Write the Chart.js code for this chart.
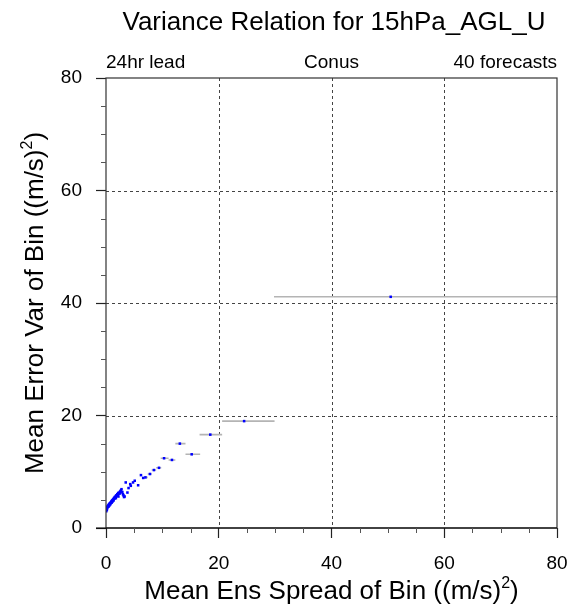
<!DOCTYPE html>
<html>
<head>
<meta charset="utf-8">
<script src="https://cdn.jsdelivr.net/npm/chart.js@4/dist/chart.umd.min.js"></script>
<style>
  html, body { margin: 0; padding: 0; background: #fff; }
</style>
</head>
<body>
<canvas id="chart" width="574" height="612"></canvas>
<script>
// bin means: spread (x) vs error variance (y)
var spreadX = [
  50.5, 24.5, 18.5, 15.2, 13.1, 11.7, 10.3, 9.4, 8.5, 7.8, 7.0, 6.6, 6.2, 5.7, 5.1, 4.8,
  4.4, 4.3, 4.0, 3.5, 3.8, 3.3, 3.2, 3.1, 3.0, 2.9, 2.75, 2.65, 2.55, 2.5, 2.4, 2.3,
  2.2, 2.15, 2.1, 2.0, 1.9, 1.8, 1.75, 1.7, 1.6, 1.55, 1.5, 1.4, 1.35, 1.3, 1.2, 1.15,
  1.1, 1.05, 1.0, 0.95, 0.9, 0.85, 0.8, 0.75, 0.7, 0.65, 0.6, 0.55, 0.5, 0.45, 0.4, 0.35,
  0.3, 0.25, 0.2, 0.15, 0.12, 0.1, 0.05
];
var errVar = [
  41.1, 19.0, 16.6, 13.1, 15.0, 12.1, 12.4, 10.7, 10.3, 9.6, 9.0, 8.9, 9.4, 7.6, 8.4, 8.1,
  7.5, 7.8, 7.1, 8.1, 6.3, 5.6, 5.5, 5.8, 6.0, 6.4, 6.9, 6.7, 6.3, 6.5, 6.1, 6.3,
  5.6, 6.2, 5.9, 6.0, 5.7, 5.8, 5.3, 5.6, 5.4, 5.5, 5.2, 5.3, 4.9, 5.1, 5.0, 4.7,
  4.9, 4.8, 4.5, 4.7, 4.6, 4.4, 4.5, 4.2, 4.4, 4.3, 4.0, 4.2, 4.1, 3.8, 4.0, 3.9,
  3.7, 3.8, 3.5, 3.2, 3.6, 3.3, 3.0
];
// bin ranges drawn as grey bars
var barY  = [41.1, 19.0, 16.6, 15.0, 13.1, 12.4, 12.1, 10.7, 10.3, 9.6, 9.0, 8.9];
var barLo = [29.8, 20.6, 16.6, 12.3, 14.1, 9.7, 11.1, 8.9, 8.1, 7.4, 6.8, 6.4];
var barHi = [80.0, 29.9, 20.6, 14.1, 16.7, 11.1, 12.3, 9.8, 8.9, 8.1, 7.4, 6.8];

var axisMin = 0, axisMax = 80, majorStep = 20, minorStep = 5;
var titleText = "Variance Relation for 15hPa_AGL_U";
var leftNote = "24hr lead", centerNote = "Conus", rightNote = "40 forecasts";
var xTitle = ["Mean Ens Spread of Bin ((m/s)", "2", ")"];
var yTitle = ["Mean Error Var of Bin ((m/s)", "2", ")"];

var FONT = "'Liberation Sans', Arial, Helvetica, sans-serif";

var points = spreadX.map(function (x, i) {
  return { x: x, y: errVar[i] };
});
var bars = [];
barY.forEach(function (y, i) {
  bars.push({ x: barLo[i], y: y });
  bars.push({ x: barHi[i], y: y });
  bars.push({ x: barHi[i], y: null });
});

// text with a small raised "2", centred on the current origin
function drawSupText(ctx, parts, size) {
  var big = size + "px " + FONT;
  var small = Math.round(size * 0.6) + "px " + FONT;
  ctx.font = big;
  var w0 = ctx.measureText(parts[0]).width;
  var w2 = ctx.measureText(parts[2]).width;
  ctx.font = small;
  var w1 = ctx.measureText(parts[1]).width;
  var x = -(w0 + w1 + w2) / 2;
  ctx.font = big;
  ctx.fillText(parts[0], x, 0);
  ctx.font = small;
  ctx.fillText(parts[1], x + w0, -size * 0.42);
  ctx.font = big;
  ctx.fillText(parts[2], x + w0 + w1, 0);
}

var decor = {
  id: "decor",
  beforeDatasetsDraw: function (chart) {
    var ctx = chart.ctx, a = chart.chartArea;
    var xs = chart.scales.x, ys = chart.scales.y;
    ctx.save();
    ctx.strokeStyle = "#444";
    ctx.lineWidth = 1;
    ctx.setLineDash([3, 3]);
    for (var v = axisMin + majorStep; v < axisMax; v += majorStep) {
      var px = Math.round(xs.getPixelForValue(v)) + 0.5;
      ctx.beginPath(); ctx.moveTo(px, a.top); ctx.lineTo(px, a.bottom); ctx.stroke();
      var py = Math.round(ys.getPixelForValue(v)) + 0.5;
      ctx.beginPath(); ctx.moveTo(a.left, py); ctx.lineTo(a.right, py); ctx.stroke();
    }
    ctx.restore();
  },
  afterDraw: function (chart) {
    var ctx = chart.ctx, a = chart.chartArea;
    var xs = chart.scales.x, ys = chart.scales.y;
    ctx.save();
    // frame
    ctx.strokeStyle = "#333";
    ctx.lineWidth = 1.2;
    ctx.strokeRect(a.left, a.top, a.right - a.left, a.bottom - a.top);
    ctx.strokeStyle = "#000";
    ctx.beginPath(); ctx.moveTo(a.left - 10, a.bottom); ctx.lineTo(a.right, a.bottom); ctx.stroke();
    // minor ticks
    ctx.lineWidth = 1;
    ctx.strokeStyle = "#555";
    for (var v = axisMin; v <= axisMax; v += minorStep) {
      if (v % majorStep === 0) continue;
      var px = Math.round(xs.getPixelForValue(v)) + 0.5;
      ctx.beginPath(); ctx.moveTo(px, a.bottom); ctx.lineTo(px, a.bottom + 5); ctx.stroke();
      var py = Math.round(ys.getPixelForValue(v)) + 0.5;
      ctx.beginPath(); ctx.moveTo(a.left, py); ctx.lineTo(a.left - 5, py); ctx.stroke();
    }
    // titles
    ctx.fillStyle = "#000";
    ctx.textBaseline = "alphabetic";
    ctx.textAlign = "center";
    ctx.font = "26px " + FONT;
    ctx.fillText(titleText, 334, 30);
    ctx.font = "19px " + FONT;
    ctx.textAlign = "left";
    ctx.fillText(leftNote, a.left, 68);
    ctx.textAlign = "center";
    ctx.fillText(centerNote, (a.left + a.right) / 2, 68);
    ctx.textAlign = "right";
    ctx.fillText(rightNote, a.right, 68);
    // axis titles
    ctx.textAlign = "left";
    ctx.save();
    ctx.translate((a.left + a.right) / 2, 599);
    drawSupText(ctx, xTitle, 26);
    ctx.restore();
    ctx.save();
    ctx.translate(43, (a.top + a.bottom) / 2);
    ctx.rotate(-Math.PI / 2);
    drawSupText(ctx, yTitle, 26);
    ctx.restore();
    ctx.restore();
  }
};

function axis(pos) {
  return {
    type: "linear",
    position: pos,
    min: axisMin,
    max: axisMax,
    ticks: {
      stepSize: majorStep,
      color: "#000",
      padding: pos === "left" ? 14 : 14,
      font: { family: FONT, size: 19 }
    },
    grid: {
      drawOnChartArea: false,
      drawTicks: true,
      tickLength: 10,
      tickColor: "#222",
      tickWidth: 1.2
    },
    border: { display: false },
    afterFit: function (scale) {
      if (pos === "left") {
        scale.width = 106;
        scale.paddingTop = 0;
        scale.paddingBottom = 0;
      } else {
        scale.height = 84;
        scale.paddingLeft = 0;
        scale.paddingRight = 0;
      }
    }
  };
}

new Chart(document.getElementById("chart").getContext("2d"), {
  type: "scatter",
  data: {
    datasets: [
      {
        label: "bins",
        data: points,
        pointStyle: "rect",
        pointRadius: 1.8,
        pointBorderWidth: 0,
        backgroundColor: "#0000ff",
        borderColor: "#0000ff",
        order: 1
      },
      {
        label: "ranges",
        data: bars,
        showLine: true,
        spanGaps: false,
        pointRadius: 0,
        borderColor: "#b4b4b4",
        borderWidth: 1.6,
        order: 2
      }
    ]
  },
  options: {
    responsive: false,
    animation: false,
    devicePixelRatio: 1,
    layout: { padding: { left: 0, right: 17, top: 78, bottom: 0 } },
    plugins: {
      legend: { display: false },
      title: { display: false },
      tooltip: { enabled: false }
    },
    scales: {
      x: axis("bottom"),
      y: axis("left")
    }
  },
  plugins: [decor]
});
</script>
</body>
</html>
